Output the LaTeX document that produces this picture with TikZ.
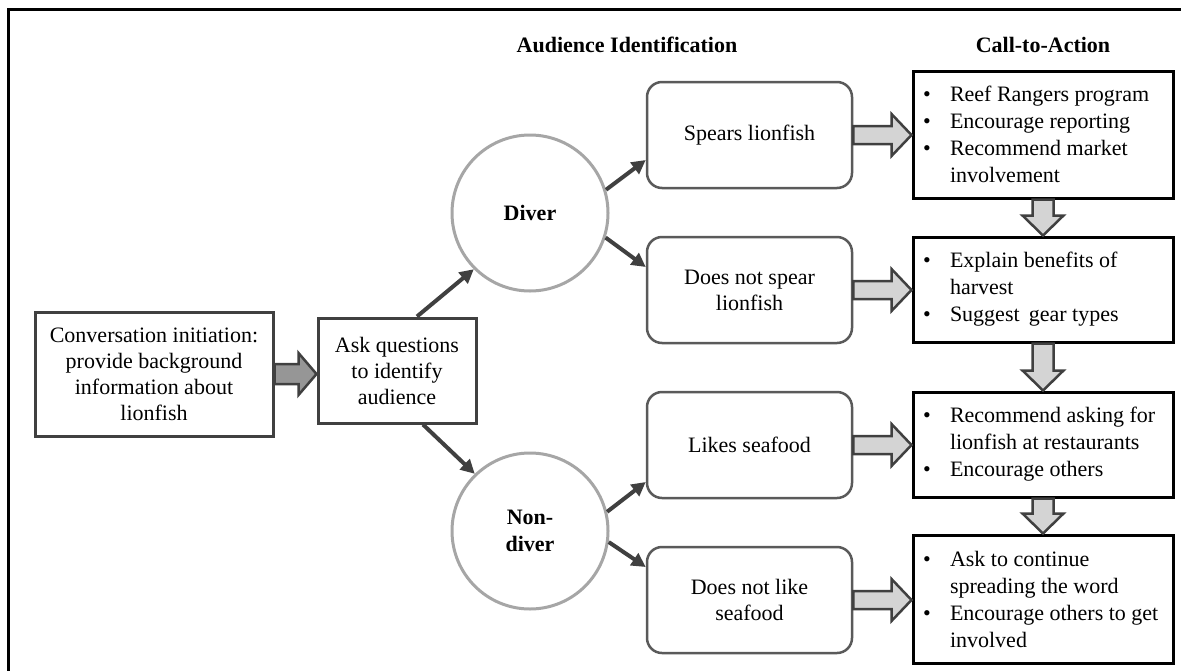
\documentclass[tikz,border=0pt]{standalone}
\usepackage{fontspec}
\setmainfont{Liberation Serif}
\usetikzlibrary{arrows.meta,calc,positioning}
\definecolor{edgegray}{HTML}{404040}
\definecolor{boxgray}{HTML}{5A5A5A}
\definecolor{ringgray}{HTML}{A6A6A6}
\definecolor{lightfill}{HTML}{D4D4D4}
\definecolor{darkfill}{HTML}{969696}
\newcommand{\bul}[1]{\makebox[240pt][l]{\makebox[27pt][l]{\textbullet}#1}}
\newcommand{\cont}[1]{\makebox[240pt][l]{\hspace{27pt}#1}}
\tikzset{
    base text/.style={font=\fontsize{22}{26}\selectfont, align=center},
    start box/.style={base text, rectangle, draw=edgegray, line width=3pt, inner sep=0pt},
    audience/.style={base text, circle, draw=ringgray, line width=3pt, minimum size=156pt, inner sep=0pt, font=\fontsize{22}{27}\selectfont\bfseries},
    branch/.style={base text, rectangle, rounded corners=15pt, draw=boxgray, line width=2.5pt, minimum width=205pt, minimum height=106pt, inner sep=0pt},
    action/.style={base text, rectangle, draw=black, line width=3pt, align=left, inner xsep=10pt, inner ysep=0pt, minimum width=260pt, font=\fontsize{22}{27}\selectfont},
    heading/.style={font=\fontsize{22}{26}\selectfont\bfseries},
    link/.style={->, draw=edgegray, line width=4pt},
    block/.style={draw=edgegray, line width=2.5pt, line join=miter, fill=lightfill}
}
\begin{document}
\begin{tikzpicture}[x=1pt, y=-1pt, >={Triangle[length=14pt,width=14pt]}]
\useasboundingbox (0,0) rectangle (1181,670);
\fill[white] (0,0) rectangle (1181,670);
\draw[line width=3pt] (8,672) -- (8,9) -- (1183,9);

\node[heading] (hdaud) at (627,45) {Audience Identification};
\node[heading] (hdcta) at (1043,45) {Call-to-Action};

\node[start box, minimum width=238pt, minimum height=124pt] (conv) at (154,374)
    {Conversation initiation:\\provide background\\information about\\lionfish};
\node[start box, minimum width=158pt, minimum height=105pt] (ask) at (397,370.5)
    {Ask questions\\to identify\\audience};

\node[audience] (diver) at (530,213) {Diver};
\node[audience] (nondiver) at (530,531) {Non-\\diver};

\node[branch] (spears) at (749.5,135) {Spears lionfish};
\node[branch] (nospear) at (749.5,290) {Does not spear\\lionfish};
\node[branch] (likes) at (749.5,445) {Likes seafood};
\node[branch] (nolike) at (749.5,600) {Does not like\\seafood};

\node[action, minimum height=127pt] (cta1) at (1043,134.5)
    {\bul{Reef Rangers program}\\\bul{Encourage reporting}\\\bul{Recommend market}\\\cont{involvement}};
\node[action, minimum height=105pt] (cta2) at (1043,289.5)
    {\bul{Explain benefits of}\\\cont{harvest}\\\bul{Suggest\, gear types}};
\node[action, minimum height=105pt] (cta3) at (1043,444.5)
    {\bul{Recommend asking for}\\\cont{lionfish at restaurants}\\\bul{Encourage others}};
\node[action, minimum height=128pt] (cta4) at (1043,599)
    {\bul{Ask to continue}\\\cont{spreading the word}\\\bul{Encourage others to get}\\\cont{involved}};

\draw[link] ([xshift=20pt]ask.north) -- (diver.225);
\draw[link] ([xshift=26pt]ask.south) -- (nondiver.134);
\draw[link] (diver.17) -- ([yshift=-25pt]spears.west);
\draw[link] (diver.-18) -- ([yshift=23pt]nospear.west);
\draw[link] (nondiver.14) -- ([yshift=-37pt]likes.west);
\draw[link] (nondiver.-8) -- ([yshift=33pt]nolike.west);

\filldraw[block, fill=darkfill] let \p1=(conv.east), \p2=(ask.west) in
    (\x1,\y1+10) -- (\x2-18,\y1+10) -- (\x2-18,\y1+21) -- (\x2,\y1)
    -- (\x2-18,\y1-21) -- (\x2-18,\y1-10) -- (\x1,\y1-10) -- cycle;
\foreach \a/\b in {spears/cta1, nospear/cta2, likes/cta3, nolike/cta4}
    \filldraw[block] let \p1=(\a.east), \p2=(\b.west) in
        (\x1,\y1+9) -- (\x2-20,\y1+9) -- (\x2-20,\y1+21) -- (\x2,\y1)
        -- (\x2-20,\y1-21) -- (\x2-20,\y1-9) -- (\x1,\y1-9) -- cycle;
\foreach \a/\b in {cta1/cta2, cta2/cta3, cta3/cta4}
    \filldraw[block] let \p1=(\a.south), \p2=(\b.north) in
        (\x1-10.5,\y1) -- (\x1-10.5,\y2+20) -- (\x1-20.5,\y2+20) -- (\x1,\y2)
        -- (\x1+20.5,\y2+20) -- (\x1+10.5,\y2+20) -- (\x1+10.5,\y1) -- cycle;
\end{tikzpicture}
\end{document}
